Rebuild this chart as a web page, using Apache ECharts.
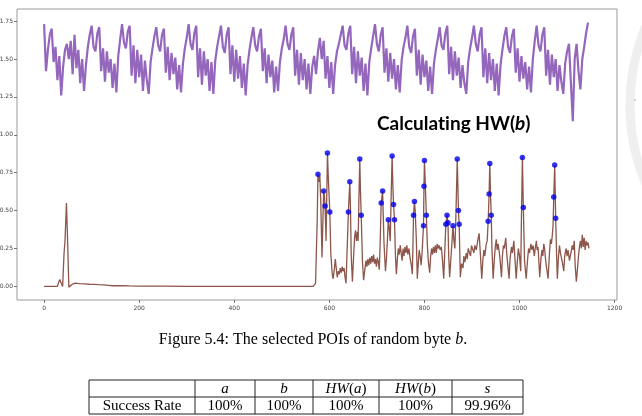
<!DOCTYPE html>
<html lang="en">
<head>
<meta charset="utf-8" />
<title>Selected POIs</title>
<script src="https://cdn.jsdelivr.net/npm/echarts@6/dist/echarts.min.js"></script>
</head>
<body style="margin:0;background:#fff">
<div id="chart" style="width:642px;height:416px"></div>
<script>
// axis ticks
const xTicks = [0, 200, 400, 600, 800, 1000, 1200];
const yTicks = [0, 0.25, 0.5, 0.75, 1.0, 1.25, 1.5, 1.75];

// purple trace, one value every 4 samples
const purpleStep = 4;
const purpleValues = [
  1.73, 1.42, 1.56, 1.66, 1.70, 1.48, 1.58, 1.36, 1.52, 1.26, 1.45, 1.56, 1.60, 1.50, 1.62, 1.40, 1.66, 1.44, 1.56, 1.34, 1.50, 1.29, 1.46, 1.58, 1.66,
  1.72, 1.58, 1.55, 1.67, 1.71, 1.42, 1.57, 1.35, 1.55, 1.41, 1.50, 1.31, 1.47, 1.28, 1.52, 1.63,
  1.73, 1.61, 1.57, 1.68, 1.72, 1.39, 1.59, 1.34, 1.56, 1.38, 1.53, 1.29, 1.49, 1.36, 1.27, 1.48, 1.57, 1.65,
  1.71, 1.59, 1.55, 1.66, 1.70, 1.41, 1.58, 1.36, 1.54, 1.40, 1.51, 1.30, 1.46, 1.28, 1.47, 1.57, 1.64,
  1.73, 1.60, 1.56, 1.67, 1.72, 1.38, 1.57, 1.33, 1.55, 1.39, 1.50, 1.29, 1.48, 1.27, 1.49, 1.58, 1.65,
  1.72, 1.58, 1.54, 1.66, 1.71, 1.40, 1.59, 1.35, 1.56, 1.37, 1.52, 1.31, 1.47, 1.26, 1.46, 1.56, 1.64,
  1.71, 1.59, 1.55, 1.65, 1.70, 1.42, 1.57, 1.34, 1.53, 1.38, 1.49, 1.28, 1.45, 1.29, 1.48, 1.57, 1.63,
  1.72, 1.60, 1.56, 1.66, 1.71, 1.39, 1.56, 1.33, 1.54, 1.36, 1.50, 1.30, 1.47, 1.27, 1.45, 1.52, 1.40, 1.55,
  1.64, 1.50, 1.62, 1.37, 1.52, 1.31, 1.48, 1.27, 1.46, 1.55, 1.60, 1.66,
  1.72, 1.59, 1.56, 1.67, 1.72, 1.40, 1.58, 1.34, 1.55, 1.39, 1.51, 1.29, 1.47, 1.26, 1.48, 1.57, 1.65,
  1.73, 1.60, 1.55, 1.66, 1.71, 1.41, 1.57, 1.35, 1.54, 1.37, 1.50, 1.30, 1.46, 1.28, 1.49, 1.58, 1.64,
  1.72, 1.58, 1.54, 1.65, 1.70, 1.39, 1.56, 1.33, 1.53, 1.38, 1.49, 1.29, 1.45, 1.27, 1.47, 1.56, 1.63,
  1.71, 1.59, 1.56, 1.67, 1.72, 1.40, 1.58, 1.36, 1.55, 1.39, 1.51, 1.31, 1.46, 1.34, 1.27, 1.48, 1.57, 1.64,
  1.72, 1.60, 1.55, 1.66, 1.71, 1.38, 1.57, 1.34, 1.54, 1.36, 1.50, 1.29, 1.47, 1.26, 1.46, 1.56, 1.65,
  1.71, 1.58, 1.54, 1.65, 1.70, 1.41, 1.57, 1.35, 1.52, 1.37, 1.48, 1.30, 1.45, 1.28, 1.50, 1.62,
  1.72, 1.59, 1.55, 1.66, 1.71, 1.39, 1.56, 1.33, 1.53, 1.38, 1.50, 1.29, 1.46, 1.35, 1.27, 1.47, 1.55, 1.60,
  1.61, 1.09, 1.50, 1.60, 1.42, 1.30, 1.50, 1.58, 1.67, 1.74
];

// brown trace [sample, value]
const brownTrace = [
  [0, 0], [28, 0], [31, 0.03], [33, 0.045], [36, 0.02], [39, 0.0], [42, 0.22], [44, 0.30], [47, 0.55], [49, 0.35], [52, -0.005],
  [55, 0.005], [60, 0.015], [66, 0.022], [74, 0.018], [85, 0.016], [95, 0.014], [105, 0.013], [115, 0.011], [125, 0.01],
  [135, 0.007], [145, 0.004], [160, 0.005], [180, 0.003], [200, 0.002], [250, 0.001], [300, 0], [566, 0],
  [569, 0.005], [571, 0.02], [573, 0.03], [574.5, 0.45], [576, 0.74], [578, 0.69], [580, 0.73], [582, 0.55], [584.5, 0.19],
  [588, 0.63], [589.5, 0.60], [591, 0.53], [593, 0.30], [596, 0.88], [598, 0.70], [601, 0.49], [603, 0.22], [606, 0.08],
  [608, 0.05], [610, 0.10], [612.5, 0.18], [614.5, 0.12], [616.5, 0.06], [619, 0.10], [621, 0.08], [623, 0.12], [625, 0.09],
  [627, 0.13], [629, 0.10], [631, 0.12], [633, 0.06], [635, 0.02], [638, 0.30], [640, 0.49], [643, 0.69], [644.5, 0.50],
  [646, 0.20], [648.5, 0.03], [651, 0.20], [653, 0.32], [655, 0.37], [657, 0.30], [659, 0.36], [660.5, 0.30], [662, 0.55],
  [664, 0.84], [665.5, 0.62], [667, 0.47], [669.5, 0.17], [672, 0.04], [675, 0.12], [677, 0.17], [679, 0.13], [681, 0.18],
  [683, 0.14], [685, 0.19], [687, 0.15], [689, 0.20], [691, 0.16], [693, 0.21], [695, 0.15], [697, 0.18], [699, 0.13],
  [701, 0.19], [703, 0.16], [705, 0.11], [706.5, 0.25], [709, 0.55], [712, 0.63], [713.5, 0.45], [715, 0.28], [718, 0.10],
  [720, 0.18], [722, 0.30], [724, 0.44], [726, 0.38], [728, 0.30], [730, 0.60], [732, 0.86], [734, 0.62], [735, 0.54],
  [737, 0.44], [739, 0.20], [741, 0.08], [743, 0.18], [745, 0.25], [747, 0.21], [749, 0.27], [751, 0.22], [753, 0.17],
  [755, 0.25], [757, 0.20], [759, 0.26], [761, 0.22], [763, 0.27], [765, 0.21], [767.5, 0.25], [770, 0.18], [772.5, 0.14],
  [774.5, 0.08], [776, 0.30], [777, 0.47], [779, 0.56], [780.5, 0.50], [783, 0.30], [785, 0.05], [787, 0.15], [789, 0.24],
  [791, 0.20], [793, 0.14], [795, 0.22], [798, 0.40], [799, 0.66], [800, 0.83], [802, 0.65], [804, 0.47], [806, 0.28],
  [808, 0.17], [811, 0.09], [813, 0.20], [815, 0.25], [817, 0.21], [819, 0.26], [821, 0.22], [823, 0.27], [825, 0.22],
  [827, 0.28], [829, 0.25], [831, 0.27], [833, 0.24], [835.5, 0.26], [838, 0.17], [840.5, 0.05], [843, 0.25], [845, 0.41],
  [847.5, 0.47], [849.5, 0.42], [851, 0.20], [853, 0.06], [856, 0.20], [858, 0.30], [860, 0.40], [862, 0.30], [864, 0.25],
  [866, 0.45], [869, 0.84], [871.5, 0.50], [873, 0.41], [875.5, 0.06], [878, 0.15], [881, 0.12], [883, 0.20], [885, 0.16],
  [888, 0.22], [890, 0.18], [892, 0.25], [895, 0.26], [897, 0.20], [899, 0.27], [902, 0.28], [904, 0.22], [906, 0.27],
  [909, 0.24], [912, 0.30], [915, 0.35], [917.5, 0.22], [920.5, 0.05], [923, 0.18], [925, 0.24], [927, 0.20], [930, 0.28],
  [932, 0.30], [934, 0.43], [936, 0.61], [937.5, 0.81], [939, 0.60], [940.5, 0.47], [942, 0.25], [944.5, 0.05], [947, 0.18],
  [949, 0.26], [951, 0.31], [953, 0.24], [955, 0.28], [958, 0.21], [960, 0.14], [962, 0.06], [964, 0.20], [966, 0.27],
  [968, 0.25], [971, 0.32], [973, 0.22], [975, 0.15], [978, 0.05], [980, 0.18], [983, 0.26], [985, 0.22], [988, 0.30],
  [990, 0.20], [993, 0.05], [995, 0.15], [997.5, 0.25], [1000, 0.20], [1002.5, 0.10], [1004, 0.45], [1006, 0.85], [1008, 0.52],
  [1010.5, 0.17], [1014, 0.05], [1017, 0.18], [1019, 0.25], [1021, 0.22], [1024, 0.28], [1026, 0.24], [1028.5, 0.27],
  [1031, 0.20], [1033, 0.25], [1035.5, 0.30], [1037, 0.24], [1039, 0.26], [1042.5, 0.06], [1045, 0.18], [1047, 0.24],
  [1049, 0.20], [1051, 0.28], [1053, 0.24], [1055, 0.17], [1057, 0.12], [1060, 0.05], [1063, 0.22], [1065, 0.31],
  [1067, 0.28], [1069, 0.34], [1070.5, 0.40], [1072, 0.59], [1074, 0.80], [1076, 0.45], [1078, 0.20], [1079.5, 0.05],
  [1082, 0.20], [1084, 0.27], [1086, 0.22], [1088, 0.21], [1090, 0.16], [1093, 0.10], [1095, 0.20], [1098, 0.25],
  [1100, 0.20], [1102, 0.24], [1105, 0.17], [1108, 0.22], [1111, 0.27], [1113, 0.24], [1115, 0.30], [1117, 0.14],
  [1119.5, 0.03], [1122, 0.12], [1124, 0.20], [1126, 0.26], [1128, 0.30], [1130, 0.25], [1132, 0.34], [1134, 0.26],
  [1136, 0.32], [1138, 0.24], [1140, 0.30], [1142, 0.27], [1144, 0.29], [1146, 0.25]
];

// selected POIs
const poiX = [576, 588, 591, 596, 601, 640, 643, 664, 667, 709, 712, 724, 732, 735, 737, 777, 779,
  798, 799, 800, 804, 845, 847.5, 849.5, 860, 869, 871.5, 873, 934, 936, 937.5, 940.5, 1006, 1008, 1072, 1074, 1076];
const poiY = [0.74, 0.63, 0.53, 0.88, 0.49, 0.49, 0.69, 0.84, 0.47, 0.55, 0.63, 0.44, 0.86, 0.54, 0.44, 0.47, 0.56,
  0.40, 0.66, 0.83, 0.47, 0.41, 0.47, 0.42, 0.40, 0.84, 0.50, 0.41, 0.43, 0.61, 0.81, 0.47, 0.85, 0.52, 0.59, 0.80, 0.45];

// table under the figure
const tableHeader = ['', '{i|a}', '{i|b}', '{i|HW}{n|(}{i|a}{n|)}', '{i|HW}{n|(}{i|b}{n|)}', '{i|s}'];
const tableRow = ['Success Rate', '100%', '100%', '100%', '100%', '99.96%'];

let colX = [89, 195, 255, 313, 379, 452, 523]
let rowY = [380, 397, 414]
let serif = '"Liberation Serif", "DejaVu Serif", serif'
let serifRich = {
  n: { fontFamily: serif, fontSize: 15, color: '#111' },
  i: { fontFamily: serif, fontSize: 15, fontStyle: 'italic', color: '#111' }
}

let graphics = []
// watermark seal (faint)
graphics.push({ type: 'circle', shape: { cx: 835, cy: 105, r: 205 }, silent: true,
  style: { fill: null, stroke: '#efefef', lineWidth: 9 } })
graphics.push({ type: 'circle', shape: { cx: 635, cy: 100, r: 1.2 }, silent: true, style: { fill: '#d8d8d8' } })
// annotation (zero-width non-joiner keeps "ti" from joining)
graphics.push({ type: 'text', left: 377, top: 114, silent: true,
  style: { text: '{n|Calculat\u200Cing HW(}{i|b}{n|)}',
    rich: {
      n: { fontFamily: 'Lato, "Open Sans", sans-serif', fontWeight: 'bold', fontSize: 19, color: '#111' },
      i: { fontFamily: 'Lato, "Open Sans", sans-serif', fontWeight: 'bold', fontStyle: 'italic', fontSize: 19, color: '#111' }
    } } })
// caption
graphics.push({ type: 'text', x: 313, y: 340, silent: true,
  style: { text: '{n|Figure 5.4: The selected POIs of random byte }{i|b}{n|.}', align: 'center', verticalAlign: 'middle',
    rich: {
      n: { fontFamily: serif, fontSize: 16, color: '#111' },
      i: { fontFamily: serif, fontSize: 16, fontStyle: 'italic', color: '#111' }
    } } })
// table lines
rowY.forEach(y => graphics.push({ type: 'line', silent: true,
  shape: { x1: colX[0], y1: y, x2: colX[colX.length - 1], y2: y }, style: { stroke: '#222', lineWidth: 1 } }))
colX.forEach(x => graphics.push({ type: 'line', silent: true,
  shape: { x1: x, y1: rowY[0], x2: x, y2: rowY[2] }, style: { stroke: '#222', lineWidth: 1 } }))
// table text
for (let c = 0; c < tableRow.length; c++) {
  let cx = (colX[c] + colX[c + 1]) / 2
  if (tableHeader[c]) {
    graphics.push({ type: 'text', x: cx, y: (rowY[0] + rowY[1]) / 2 + 1, silent: true,
      style: { text: tableHeader[c], align: 'center', verticalAlign: 'middle', rich: serifRich } })
  }
  graphics.push({ type: 'text', x: cx, y: (rowY[1] + rowY[2]) / 2 + 1, silent: true,
    style: { text: '{n|' + tableRow[c] + '}', align: 'center', verticalAlign: 'middle', rich: serifRich } })
}

let chart = echarts.init(document.getElementById('chart'), null, { renderer: 'canvas' })
chart.setOption({
  animation: false,
  backgroundColor: '#fff',
  grid: { left: 17, top: 9, width: 600, height: 291, show: true, borderColor: '#9a9a9a', borderWidth: 1,
    outerBoundsMode: 'none' },
  xAxis: {
    type: 'value', min: -57, max: 1205,
    axisLine: { show: false, onZero: false },
    splitLine: { show: false },
    axisTick: { show: true, customValues: xTicks, length: 3, lineStyle: { color: '#555', width: 0.8 } },
    axisLabel: { customValues: xTicks, fontSize: 6, color: '#444', margin: 5, fontFamily: '"DejaVu Sans", sans-serif',
      formatter: v => String(v) }
  },
  yAxis: {
    type: 'value', min: -0.09, max: 1.83,
    axisLine: { show: false, onZero: false },
    splitLine: { show: false },
    axisTick: { show: true, customValues: yTicks, length: 3, lineStyle: { color: '#555', width: 0.8 } },
    axisLabel: { customValues: yTicks, fontSize: 6, color: '#444', margin: 4, fontFamily: '"DejaVu Sans", sans-serif',
      formatter: v => v.toFixed(2) }
  },
  series: [
    { type: 'line', data: purpleValues.map((v, i) => [i * purpleStep, v]), showSymbol: false,
      lineStyle: { color: '#9467bd', width: 2.2 } },
    { type: 'line', data: brownTrace, showSymbol: false,
      lineStyle: { color: '#8c564b', width: 1.3 } },
    { type: 'scatter', data: poiX.map((x, i) => [x, poiY[i]]), symbolSize: 5.5, z: 5,
      itemStyle: { color: '#0000ee' } }
  ],
  graphic: graphics
})
</script>
</body>
</html>
